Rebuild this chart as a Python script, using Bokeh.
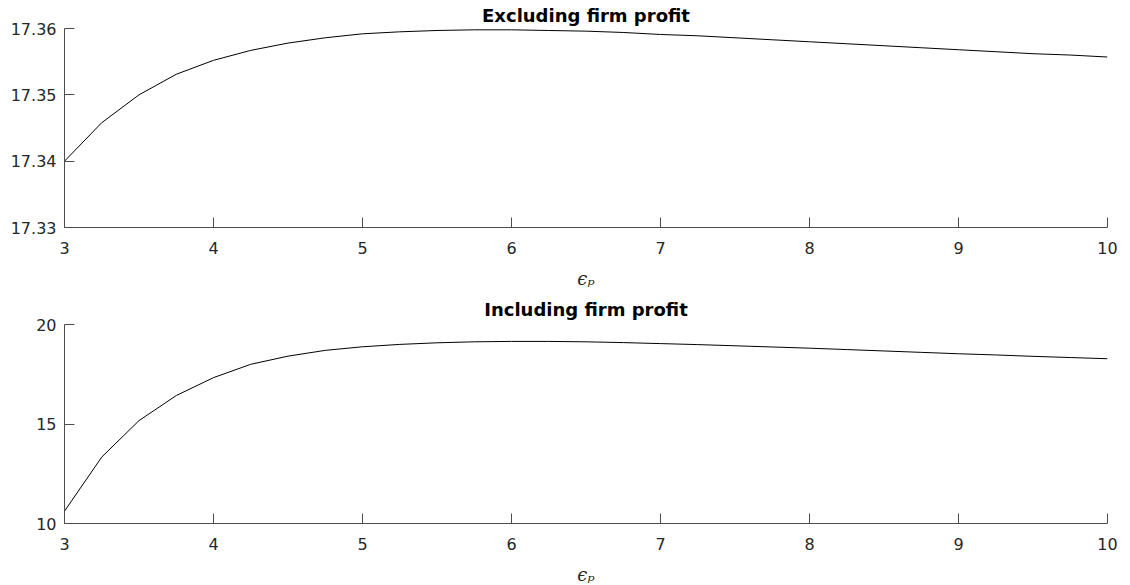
from bokeh.plotting import figure
from bokeh.layouts import column
from bokeh.models import Range1d, FixedTicker
from bokeh.embed import file_html
from bokeh.resources import INLINE

eps_p = [3.00, 3.25, 3.50, 3.75, 4.00, 4.25, 4.50, 4.75, 5.00, 5.25, 5.50, 5.75,
         6.00, 6.25, 6.50, 6.75, 7.00, 7.25, 7.50, 7.75, 8.00, 8.25, 8.50, 8.75,
         9.00, 9.25, 9.50, 9.75, 10.00]

excluding = [17.3400, 17.3458, 17.3500, 17.3531, 17.3552, 17.3567, 17.3578, 17.3586,
             17.3592, 17.3595, 17.3597, 17.3598, 17.3598, 17.3597, 17.3596, 17.3594,
             17.3591, 17.3589, 17.3586, 17.3583, 17.3580, 17.3577, 17.3574, 17.3571,
             17.3568, 17.3565, 17.3562, 17.3560, 17.3557]

including = [10.62, 13.34, 15.17, 16.43, 17.33, 18.00, 18.41, 18.70, 18.88, 19.00,
             19.08, 19.13, 19.15, 19.15, 19.13, 19.09, 19.04, 18.99, 18.93, 18.87,
             18.81, 18.74, 18.67, 18.60, 18.53, 18.47, 18.40, 18.34, 18.28]

x_ticks = [3, 4, 5, 6, 7, 8, 9, 10]
y_ticks_top = [17.33, 17.34, 17.35, 17.36]
y_ticks_bottom = [10, 15, 20]

titles = ["Excluding firm profit", "Including firm profit"]
x_label = "ϵₚ"

AXIS_COLOR = "#4d4d4d"
TEXT_COLOR = "#262626"


def make_panel(title, ys, yticks, yr, top_border, bottom_border, title_standoff):
    p = figure(frame_width=1043, frame_height=199, output_backend="svg", toolbar_location=None,
               x_range=Range1d(3, 10), y_range=Range1d(*yr),
               min_border_left=64, min_border_right=23,
               min_border_top=top_border, min_border_bottom=bottom_border,
               title=title)
    p.title.text_font = "DejaVu Sans"
    p.title.text_font_size = "18px"
    p.title.text_font_style = "bold"
    p.title.text_color = "#000000"
    p.title.align = "center"
    p.title.standoff = title_standoff
    p.outline_line_color = None
    p.background_fill_color = "white"
    p.border_fill_color = "white"
    p.grid.visible = False

    p.line(eps_p, ys, line_color="black", line_width=1)

    for ax in (p.xaxis[0], p.yaxis[0]):
        ax.axis_line_color = AXIS_COLOR
        ax.axis_line_width = 1
        ax.major_tick_line_color = AXIS_COLOR
        ax.major_tick_in = 10
        ax.major_tick_out = 0
        ax.minor_tick_line_color = None
        ax.major_label_text_font = "DejaVu Sans"
        ax.major_label_text_font_size = "16px"
        ax.major_label_text_color = TEXT_COLOR

    p.xaxis.ticker = FixedTicker(ticks=x_ticks)
    p.yaxis.ticker = FixedTicker(ticks=yticks)
    p.xaxis.major_label_standoff = 14
    p.yaxis.major_label_standoff = 8
    p.xaxis.axis_label = x_label
    p.xaxis.axis_label_text_font = "DejaVu Serif"
    p.xaxis.axis_label_text_font_style = "italic"
    p.xaxis.axis_label_text_font_size = "18px"
    p.xaxis.axis_label_text_color = TEXT_COLOR
    p.xaxis.axis_label_standoff = 11
    return p


p1 = make_panel(titles[0], excluding, y_ticks_top, (17.33, 17.36), 28, 63, 5)
p2 = make_panel(titles[1], including, y_ticks_bottom, (10, 20), 33, 58, 10)

p = column(p1, p2)
open("out.html", "w").write(file_html(p, INLINE))
